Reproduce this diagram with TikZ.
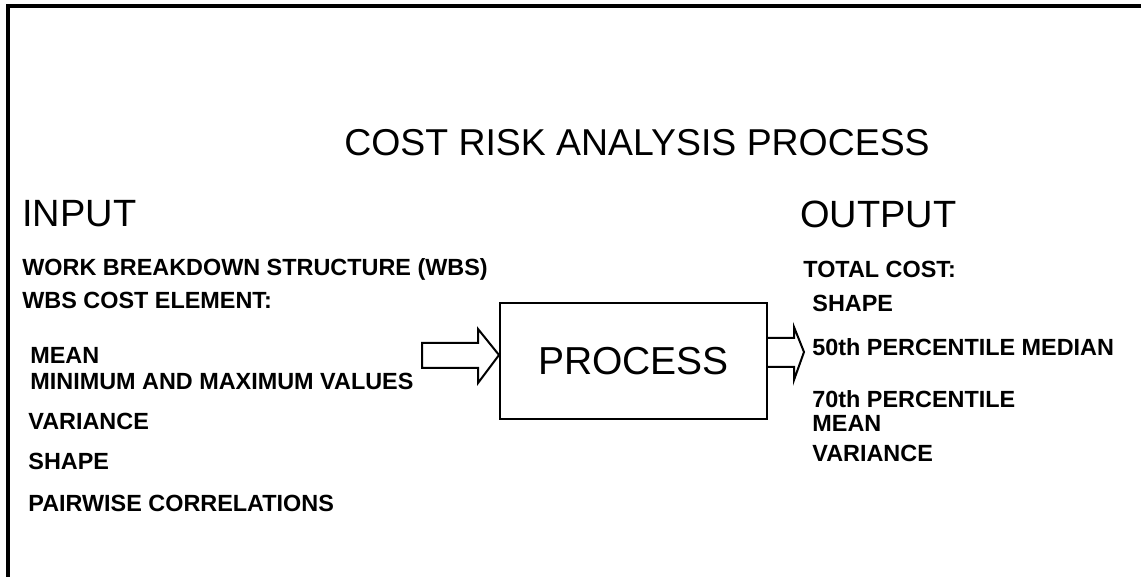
\documentclass[tikz,border=0pt]{standalone}
\usepackage{fontspec}
\setmainfont{Liberation Sans}
\begin{document}
\begin{tikzpicture}[x=0.5pt,y=-0.5pt,
    heading/.style={inner sep=0pt,anchor=west,font=\fontsize{19}{22}\selectfont},
    item/.style={inner sep=0pt,anchor=west,font=\bfseries\fontsize{11.7}{13}\selectfont},
    procbox/.style={draw,line width=1pt,minimum width=133.5pt,minimum height=58pt,inner sep=0pt,font=\fontsize{19.5}{23}\selectfont},
    blockarrow/.style={draw,line width=1pt,line join=miter}]
    \useasboundingbox (0,0) rectangle (1148,577);
    \draw[line width=1.6pt] (8,577) -- (8,6) -- (1141,6);
    \node[inner sep=0pt,font=\fontsize{18.7}{22}\selectfont] (title) at (637,143) {COST RISK ANALYSIS PROCESS};
    \node[heading] (input) at (22,214) {INPUT};
    \node[heading] (output) at (800,214) {OUTPUT};
    \foreach \ypos/\xpos/\txt [count=\i] in {269/22/WORK BREAKDOWN STRUCTURE (WBS), 300/22/WBS COST ELEMENT:, 355/30/MEAN, 381/30/MINIMUM AND MAXIMUM VALUES, 421/28/VARIANCE, 461/28/SHAPE, 503/28/PAIRWISE CORRELATIONS}
    \node[item] (in\i) at (\xpos,\ypos) {\txt};
    \foreach \ypos/\xpos/\txt [count=\i] in {269/803/TOTAL COST:, 303/812/SHAPE, 347/812/50th PERCENTILE MEDIAN, 399/812/70th PERCENTILE, 423/812/MEAN, 453/812/VARIANCE}
    \node[item] (out\i) at (\xpos,\ypos) {\txt};
    \node[procbox] (proc) at (633.5,361) {PROCESS};
    \draw[blockarrow] ([yshift=3pt]proc.west) -- ++(-21,-26) -- ++(0,14) -- ++(-56,0)
    -- ++(0,25) -- ++(56,0) -- ++(0,15) -- cycle;
    \draw[blockarrow] ([yshift=11.5pt]proc.east) -- ++(26,0) -- ++(0,-11) -- ++(10,25)
    -- ++(-10,28) -- ++(0,-13) -- ++(-26,0);
\end{tikzpicture}
\end{document}
